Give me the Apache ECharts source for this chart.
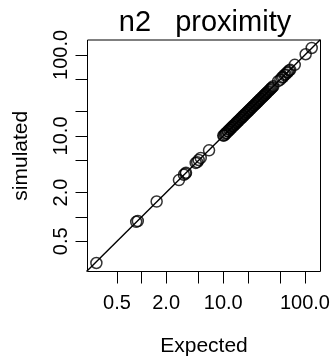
<!DOCTYPE html>
<html>
<head>
<meta charset="utf-8">
<script src="https://cdn.jsdelivr.net/npm/echarts@6/dist/echarts.min.js"></script>
<style>
  html, body { margin: 0; padding: 0; background: #fff; }
  #chart { width: 333px; height: 358px; }
</style>
</head>
<body>
<div id="chart"></div>
<script>
// Expected vs simulated proximity counts for n2 (log-log)
const expected = [
  0.28, 0.86, 0.90, 1.53, 2.87, 3.30, 3.45, 3.50, 4.60, 4.80, 5.00, 5.30, 6.70,
  10.0, 10.2, 10.5, 10.7, 11.0, 11.3, 11.5, 11.8, 12.1, 12.4,
  12.7, 13.0, 13.3, 13.6, 14.0, 14.3, 14.7, 15.0, 15.4, 15.8,
  16.2, 16.6, 17.0, 17.4, 17.8, 18.3, 18.7, 19.2, 19.7, 20.2,
  20.7, 21.2, 21.7, 22.3, 22.8, 23.4, 24.0, 24.6, 25.2, 25.8,
  26.5, 27.1, 27.8, 28.5, 29.2, 30.0, 30.7, 31.5, 32.3, 33.1,
  34.0, 34.9, 35.8, 36.7, 37.7, 38.7, 39.8, 41.0,
  47.0, 50.0, 52.0, 54.0, 56.0, 58.0, 60.0, 62.0, 64.0, 66.0, 75.0, 102.0, 121.0
];
const simulated = [
  0.27, 0.87, 0.89, 1.55, 2.85, 3.32, 3.42, 3.52, 4.65, 4.75, 5.05, 5.35, 6.65,
  10.1, 10.1, 10.4, 10.8, 10.9, 11.4, 11.4, 11.9, 12.0, 12.5,
  12.6, 13.1, 13.2, 13.7, 13.9, 14.4, 14.6, 15.1, 15.3, 15.9,
  16.1, 16.7, 16.9, 17.5, 17.7, 18.4, 18.6, 19.3, 19.6, 20.3,
  20.6, 21.3, 21.6, 22.4, 22.7, 23.5, 23.9, 24.7, 25.1, 25.9,
  26.4, 27.2, 27.7, 28.6, 29.1, 30.1, 30.6, 31.6, 32.2, 33.2,
  33.9, 35.0, 35.7, 36.8, 37.6, 38.8, 39.7, 41.1,
  47.5, 49.5, 52.5, 53.5, 56.5, 57.5, 60.5, 61.5, 64.5, 65.5, 75.5, 102.0, 122.0
];

// Axis tick positions and the subset that carries labels
const tickValues = [0.5, 1, 2, 5, 10, 20, 50, 100];
const labelValues = [0.5, 2, 10, 100];

// Axis ranges (data units)
const xRange = [0.218, 155];
const yRange = [0.212, 153];

const lg = Math.log10;
const fmt = v => Math.pow(10, v).toFixed(1);
const font = 'Liberation Sans, Arial, Helvetica, sans-serif';

const points = expected.map((e, i) => [lg(e), lg(simulated[i])]);
const lo = Math.min(lg(xRange[0]), lg(yRange[0]));
const hi = Math.max(lg(xRange[1]), lg(yRange[1]));

const chart = echarts.init(document.getElementById('chart'), null, { renderer: 'canvas' });
chart.setOption({
  animation: false,
  backgroundColor: '#fff',
  title: {
    text: 'n2   proximity',
    left: 200,
    top: 3,
    textAlign: 'center',
    textStyle: { fontFamily: font, fontSize: 29, fontWeight: 'normal', color: '#000' }
  },
  grid: {
    left: 87.5, right: 12.5, top: 40, bottom: 86.5,
    containLabel: false, outerBoundsMode: 'none',
    show: true, borderColor: '#000', borderWidth: 1, backgroundColor: 'transparent'
  },
  xAxis: {
    type: 'value',
    min: lg(xRange[0]), max: lg(xRange[1]),
    name: 'Expected', nameLocation: 'middle', nameGap: 64,
    nameTextStyle: { fontFamily: font, fontSize: 21, color: '#000' },
    axisLine: { show: false, onZero: false },
    splitLine: { show: false },
    axisTick: { show: true, length: 12, lineStyle: { color: '#000', width: 1 }, customValues: tickValues.map(lg) },
    axisLabel: {
      fontFamily: font, fontSize: 20, color: '#000', margin: 22,
      customValues: labelValues.map(lg), formatter: fmt
    }
  },
  yAxis: {
    type: 'value',
    min: lg(yRange[0]), max: lg(yRange[1]),
    name: 'simulated', nameLocation: 'middle', nameGap: 56, nameRotate: 90,
    nameTextStyle: { fontFamily: font, fontSize: 21, color: '#000' },
    axisLine: { show: false, onZero: false },
    splitLine: { show: false },
    axisTick: { show: true, length: 12, lineStyle: { color: '#000', width: 1 }, customValues: tickValues.map(lg) },
    axisLabel: {
      fontFamily: font, fontSize: 20, color: '#000', margin: 16, rotate: 90,
      customValues: labelValues.map(lg), formatter: fmt
    }
  },
  series: [
    {
      type: 'line',
      data: [[lo, lo], [hi, hi]],
      symbol: 'none',
      lineStyle: { color: '#000', width: 1.4 },
      silent: true,
      z: 1
    },
    {
      type: 'scatter',
      data: points,
      symbol: 'circle',
      symbolSize: 11,
      itemStyle: { color: 'rgba(0,0,0,0)', borderColor: '#000', borderWidth: 1.5 },
      z: 2
    }
  ]
});
</script>
</body>
</html>
